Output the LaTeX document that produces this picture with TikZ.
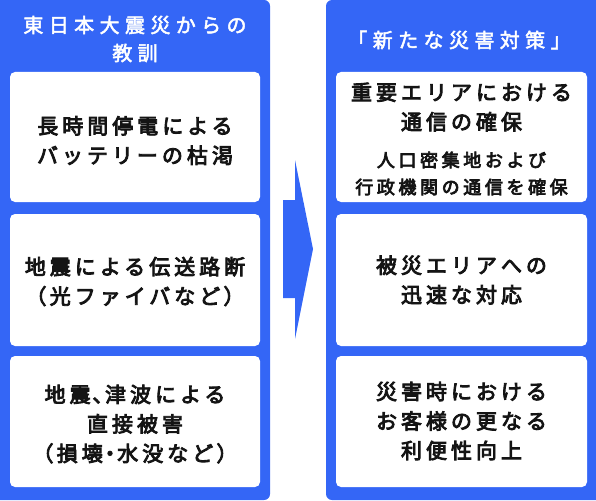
\documentclass[tikz,border=0pt]{standalone}
\usepackage{fontspec}
\newfontfamily\jp{Noto Sans CJK JP}[LetterSpace=19,FakeBold=4]
\newfontfamily\jpt{Noto Sans CJK JP}[LetterSpace=27,FakeBold=2.5]
\newfontfamily\jps{Noto Sans CJK JP}[LetterSpace=20,FakeBold=4]
\newcommand{\popen}[1]{{\addfontfeature{RawFeature=+palt}#1}\kern4pt}
\newcommand{\pclose}[1]{\kern4pt{\addfontfeature{RawFeature=+palt}#1}}
\newcommand{\pmid}[1]{\kern2pt{\addfontfeature{RawFeature=+palt}#1}\kern2pt}
\definecolor{pblue}{RGB}{52,102,246}
\definecolor{ptext}{RGB}{20,20,20}
\begin{document}
\begin{tikzpicture}[x=1pt,y=-1pt,
  panel/.style={fill=pblue,rounded corners=6pt},
  card/.style={fill=white,rounded corners=5pt,draw=none},
  cardtext/.style={text=ptext,align=center,font=\jp\fontsize{21}{29.5}\selectfont,inner sep=0pt},
  titletext/.style={text=white,align=center,inner sep=0pt},
  arrowshape/.style={fill=pblue}]
\useasboundingbox (0,0) rectangle (596,500);
% panels
\fill[panel] (-10,0) rectangle (270,500);
\fill[panel] (326,0) rectangle (606,500);
% titles
\node[titletext,font=\jpt\fontsize{20}{28}\selectfont] (lt) at (135,39) {東日本大震災からの\\教訓};
\node[titletext,font=\jpt\fontsize{20}{28}\selectfont] (rt) at (459,40) {「新たな災害対策」};
% left cards
\fill[card] (10,72) rectangle (260,202);
\fill[card] (10,214) rectangle (260,346);
\fill[card] (10,356) rectangle (260,487);
\node[cardtext] (l1) at (135,140.5) {長時間停電による\\バッテリーの枯渇};
\node[cardtext] (l2) at (135,281.5) {地震による伝送路断\\\popen{（}光ファイバなど\pclose{）}};
\node[cardtext] (l3) at (135,424) {地震\pmid{、}津波による\\直接被害\\\popen{（}損壊\pmid{・}水没など\pclose{）}};
% right cards
\fill[card] (336,72) rectangle (587,202);
\fill[card] (336,214) rectangle (587,346);
\fill[card] (336,356) rectangle (587,487);
\node[cardtext] (r1a) at (461.5,107) {重要エリアにおける\\通信の確保};
\node[cardtext,font=\jps\fontsize{18}{27}\selectfont] (r1b) at (461.5,173.5) {人口密集地および\\行政機関の通信を確保};
\node[cardtext] (r2) at (461.5,280) {被災エリアへの\\迅速な対応};
\node[cardtext] (r3) at (461.5,421) {災害時における\\お客様の更なる\\利便性向上};
% arrow
\fill[arrowshape] (283,200) -- (295,200) -- (295,160) -- (313,249) -- (295,339) -- (295,298) -- (283,298) -- cycle;
\end{tikzpicture}
\end{document}
